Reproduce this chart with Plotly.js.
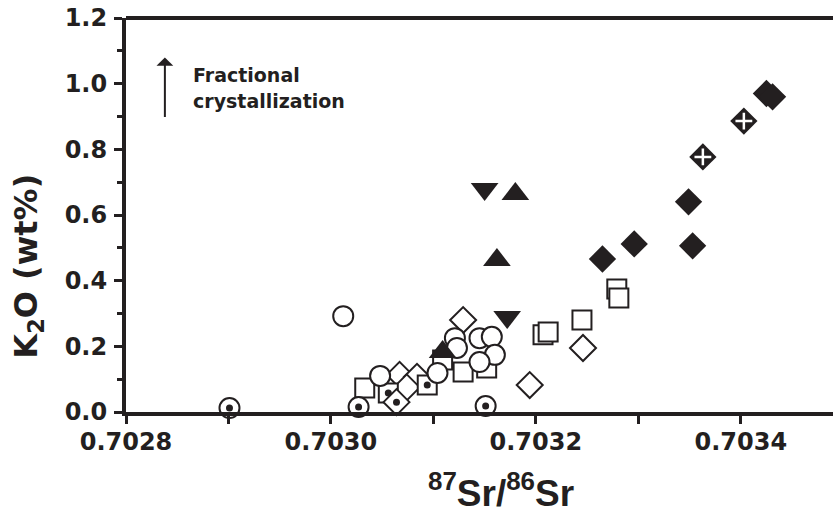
<!DOCTYPE html>
<html>
<head>
<meta charset="utf-8">
<script src="https://cdn.plot.ly/plotly-3.0.1.min.js"></script>
<style>html,body{margin:0;padding:0;background:#fff;}#chart{width:833px;height:525px;}</style>
</head>
<body>
<div id="chart"></div>
<script>
// Open squares
const sqX = [0.703033, 0.703109, 0.703129, 0.703152, 0.703207, 0.703212, 0.703245, 0.703279, 0.703281];
const sqY = [0.073, 0.158, 0.122, 0.134, 0.235, 0.244, 0.280, 0.375, 0.347];
// Squares with dot
const sqDotX = [0.703056, 0.703094];
const sqDotY = [0.058, 0.082];
// Open diamonds
const diaX = [0.703067, 0.703084, 0.703074, 0.703129, 0.703194, 0.703246];
const diaY = [0.113, 0.107, 0.075, 0.280, 0.082, 0.195];
// Diamonds with dot
const diaDotX = [0.703064];
const diaDotY = [0.030];
// Open circles
const cirX = [0.703012, 0.703048, 0.703104, 0.703121, 0.703123, 0.703145, 0.703157, 0.703160, 0.703145];
const cirY = [0.292, 0.110, 0.119, 0.225, 0.195, 0.225, 0.229, 0.174, 0.152];
// Circles with dot
const cirDotX = [0.702901, 0.703027, 0.703151];
const cirDotY = [0.012, 0.015, 0.018];
// Filled triangles up / down
const triUpX = [0.703180, 0.703162, 0.703109];
const triUpY = [0.664, 0.463, 0.183];
const triDnX = [0.703150, 0.703172];
const triDnY = [0.679, 0.289];
// Filled diamonds
const fdiaX = [0.703265, 0.703296, 0.703349, 0.703353, 0.703425, 0.703431];
const fdiaY = [0.466, 0.512, 0.640, 0.506, 0.970, 0.960];
// Filled diamonds with cross
const xdiaX = [0.703363, 0.703403];
const xdiaY = [0.777, 0.886];
// Axis ticks
const xTicks = [0.7028, 0.7030, 0.7032, 0.7034];
const xTickText = ["0.7028", "0.7030", "0.7032", "0.7034"];
const yTicks = [0, 0.2, 0.4, 0.6, 0.8, 1.0, 1.2];
const yTickText = ["0.0", "0.2", "0.4", "0.6", "0.8", "1.0", "1.2"];

const INK = '#231f20';
const LW = 2;
function openTrace(x, y, sym, size) {
  return {x, y, type: 'scatter', mode: 'markers', cliponaxis: false, hoverinfo: 'x+y',
    marker: {symbol: sym, size: size, color: '#ffffff', line: {color: INK, width: LW}}};
}
function dotTrace(x, y) {
  return {x, y, type: 'scatter', mode: 'markers', cliponaxis: false, hoverinfo: 'skip',
    marker: {symbol: 'circle', size: 7, color: INK, line: {width: 0}}};
}
const traces = [
  openTrace(sqX, sqY, 'square', 19),
  openTrace(diaX, diaY, 'diamond', 20),
  openTrace(sqDotX, sqDotY, 'square', 19), dotTrace(sqDotX, sqDotY),
  openTrace(diaDotX, diaDotY, 'diamond', 20), dotTrace(diaDotX, diaDotY),
  openTrace(cirX, cirY, 'circle', 20),
  openTrace(cirDotX, cirDotY, 'circle', 20), dotTrace(cirDotX, cirDotY),
  {x: triUpX, y: triUpY, type: 'scatter', mode: 'markers', cliponaxis: false,
   marker: {symbol: 'triangle-up', size: 24, color: INK, line: {width: 0}}},
  {x: triDnX, y: triDnY, type: 'scatter', mode: 'markers', cliponaxis: false,
   marker: {symbol: 'triangle-down', size: 24, color: INK, line: {width: 0}}},
  {x: fdiaX, y: fdiaY, type: 'scatter', mode: 'markers', cliponaxis: false,
   marker: {symbol: 'diamond', size: 21, color: INK, line: {width: 0}}},
  {x: xdiaX, y: xdiaY, type: 'scatter', mode: 'markers', cliponaxis: false,
   marker: {symbol: 'diamond', size: 21, color: INK, line: {width: 0}}},
  {x: xdiaX, y: xdiaY, type: 'scatter', mode: 'markers', cliponaxis: false, hoverinfo: 'skip',
   marker: {symbol: 'cross-thin-open', size: 12, color: '#ffffff', line: {color: '#ffffff', width: 2.5}}}
];

const FONT = 'DejaVu Sans, Verdana, sans-serif';
const tickFont = {family: FONT, size: 24, color: INK, weight: 'bold'};
const layout = {
  width: 833, height: 525,
  margin: {l: 126, r: 0, t: 18, b: 113},
  paper_bgcolor: '#ffffff', plot_bgcolor: '#ffffff',
  showlegend: false,
  font: {family: FONT, color: INK},
  xaxis: {
    range: [0.7028, 0.70349], tickmode: 'array', tickvals: xTicks, ticktext: xTickText,
    ticks: 'outside', ticklen: 8, tickwidth: 3, tickcolor: INK,
    minor: {dtick: 0.0001, tick0: 0.7028, ticks: 'outside', ticklen: 8, tickwidth: 3, tickcolor: INK},
    showline: true, linecolor: INK, linewidth: 4, mirror: false,
    showgrid: false, zeroline: false, tickfont: tickFont, ticklabelstandoff: -3
  },
  yaxis: {
    range: [0, 1.2], tickmode: 'array', tickvals: yTicks, ticktext: yTickText,
    ticks: 'outside', ticklen: 8, tickwidth: 3, tickcolor: INK,
    minor: {dtick: 0.1, tick0: 0, ticks: 'outside', ticklen: 5, tickwidth: 3, tickcolor: INK},
    showline: true, linecolor: INK, linewidth: 4, mirror: false,
    showgrid: false, zeroline: false, tickfont: tickFont, ticklabelstandoff: 2
  },
  shapes: [
    {type: 'line', xref: 'paper', yref: 'paper', x0: 0, x1: 1, y0: 1, y1: 1, line: {color: INK, width: 4}}
  ],
  annotations: [
    {xref: 'paper', yref: 'paper', ax: 0.055, ay: 0.745, x: 0.055, y: 0.9, axref: 'paper', ayref: 'paper',
     text: '', showarrow: true, arrowhead: 1, arrowsize: 1.4, arrowwidth: 2, arrowcolor: INK},
    {xref: 'paper', yref: 'paper', x: 0.092, y: 0.855, xanchor: 'left', yanchor: 'middle', showarrow: false,
     text: 'Fractional', font: {family: FONT, size: 19, weight: 'bold', color: INK}},
    {xref: 'paper', yref: 'paper', x: 0.092, y: 0.79, xanchor: 'left', yanchor: 'middle', showarrow: false,
     text: 'crystallization', font: {family: FONT, size: 19, weight: 'bold', color: INK}},
    {xref: 'paper', yref: 'paper', x: -0.138, y: 0.37, xanchor: 'center', yanchor: 'middle', showarrow: false,
     textangle: -90, text: 'K<sub>2</sub>O (wt%)',
     font: {family: FONT, size: 32, weight: 'bold', color: INK}},
    {xref: 'paper', yref: 'paper', x: 0.53, y: -0.198, xanchor: 'center', yanchor: 'middle', showarrow: false,
     text: '<sup>87</sup>Sr/<sup>86</sup>Sr',
     font: {family: 'Liberation Sans Narrow, Arial Narrow, sans-serif', size: 37, weight: 'bold', color: INK}}
  ]
};
Plotly.newPlot('chart', traces, layout, {displayModeBar: false, staticPlot: true});
</script>
</body>
</html>
